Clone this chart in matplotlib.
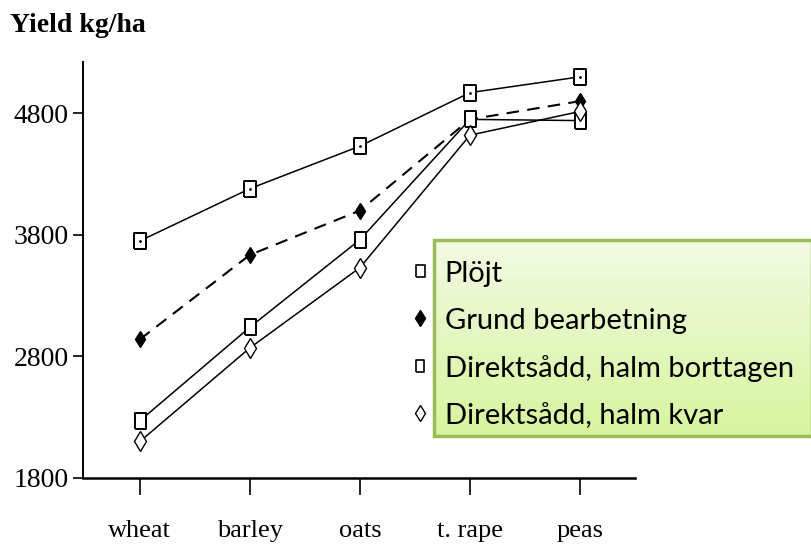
import numpy as np
import matplotlib.pyplot as plt
from matplotlib.lines import Line2D
from matplotlib.patches import Rectangle

crops = ["wheat", "barley", "oats", "t. rape", "peas"]
plojt = [3750, 4180, 4530, 4970, 5100]
grund = [2940, 3635, 4000, 4750, 4900]
direkt_bort = [2270, 3040, 3760, 4750, 4740]
direkt_kvar = [2100, 2870, 3530, 4620, 4815]
y_ticks = [1800, 2800, 3800, 4800]
legend_labels = ["Plöjt", "Grund bearbetning",
                 "Direktsådd, halm borttagen", "Direktsådd, halm kvar"]

serif = "Liberation Serif"
rect_marker = [(-0.72, -1), (0.72, -1), (0.72, 1), (-0.72, 1), (-0.72, -1)]

fig = plt.figure(figsize=(8.12, 5.45), dpi=100)
ax = fig.add_axes([0.102, 0.123, 0.680, 0.763])

x = np.arange(len(crops))
lw = 1.1
ax.plot(x, plojt, color="black", lw=lw, marker=rect_marker, ms=12,
        mfc="white", mec="black", mew=1.4, zorder=3)
ax.plot(x, plojt, ls="none", marker=".", ms=2, color="black", zorder=4)
ax.plot(x, grund, color="black", lw=1.5, ls=(0, (6, 4)), marker="d", ms=8,
        mfc="black", mec="black", zorder=3)
ax.plot(x, direkt_bort, color="black", lw=lw, marker=rect_marker, ms=11,
        mfc="white", mec="black", mew=1.4, zorder=3)
ax.plot(x, direkt_kvar, color="black", lw=lw, marker="d", ms=10,
        mfc="white", mec="black", mew=1.0, zorder=3)

ax.set_xlim(-0.518, 4.5)
ax.set_ylim(1800, 5221)
ax.set_xticks(x)
ax.set_xticklabels(crops, fontfamily=serif, fontsize=19)
ax.set_yticks(y_ticks)
ax.set_yticklabels([str(v) for v in y_ticks], fontfamily=serif, fontsize=20)
for s in ["top", "right"]:
    ax.spines[s].set_visible(False)
ax.spines["left"].set_linewidth(1.4)
ax.spines["bottom"].set_linewidth(1.8)
ax.tick_params(axis="x", direction="out", length=12, width=1.2, pad=18)
ax.tick_params(axis="y", direction="out", length=7, width=1.2, pad=3)

fig.text(0.012, 0.953, "Yield kg/ha", fontfamily=serif, fontweight="bold",
         fontsize=20, va="center", ha="left")

# legend box with a green gradient
box = fig.add_axes([434 / 812, 1 - 436 / 545, (812 - 434) / 812, 196 / 545])
grad = np.linspace(0, 1, 100).reshape(-1, 1)
top_c = np.array([0.95, 0.98, 0.89])
bot_c = np.array([0.84, 0.96, 0.62])
img = top_c[None, None, :] * (1 - grad[..., None]) + bot_c[None, None, :] * grad[..., None]
box.imshow(img, aspect="auto", extent=[0, 1, 1, 0])
box.add_patch(Rectangle((0, 0), 1, 1, transform=box.transAxes, fill=False,
                        ec="#9bbb59", lw=2.5, clip_on=False))
box.set_xlim(0, 1)
box.set_ylim(1, 0)
box.axis("off")

handles = [
    Line2D([], [], ls="none", marker=rect_marker, ms=9, mfc="white", mec="black", mew=1.2),
    Line2D([], [], ls="none", marker="d", ms=8, mfc="black", mec="black"),
    Line2D([], [], ls="none", marker=rect_marker, ms=8, mfc="white", mec="black", mew=1.2),
    Line2D([], [], ls="none", marker="d", ms=8, mfc="white", mec="black", mew=1.0),
]
fig.legend(handles, legend_labels, loc="upper left",
           bbox_to_anchor=(397 / 812, 1 - 249 / 545), frameon=False,
           prop={"family": "Lato", "size": 21}, handlelength=0.8,
           handletextpad=0.43, labelspacing=0.72, borderaxespad=0)

fig.savefig("out.png", dpi=100)
